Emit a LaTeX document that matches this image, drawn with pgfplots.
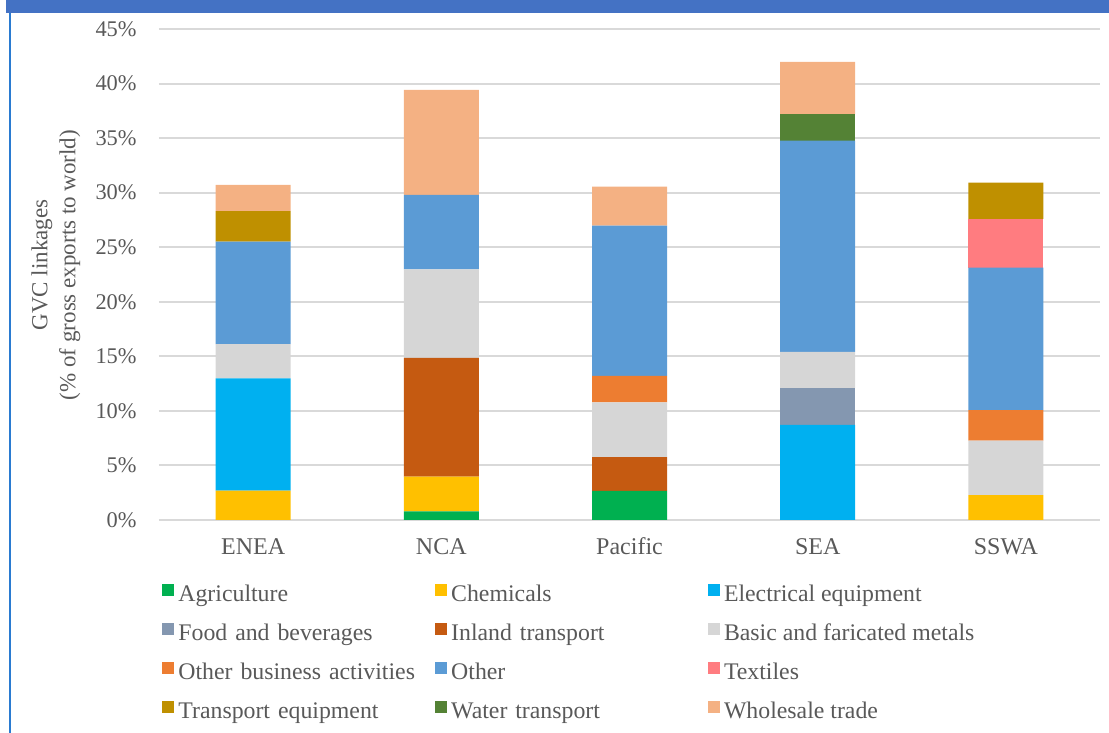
\documentclass[border=0pt]{standalone}
\usepackage{fontspec}
\setmainfont{Liberation Serif}
\usepackage{pgfplots}
\pgfplotsset{compat=1.18}
\definecolor{cAgri}{HTML}{00B050}
\definecolor{cChem}{HTML}{FFC000}
\definecolor{cElec}{HTML}{00B0F0}
\definecolor{cFood}{HTML}{8497B0}
\definecolor{cInland}{HTML}{C55A11}
\definecolor{cMetal}{HTML}{D6D6D6}
\definecolor{cOBA}{HTML}{ED7D31}
\definecolor{cOther}{HTML}{5B9BD5}
\definecolor{cText}{HTML}{FF7C80}
\definecolor{cTrEq}{HTML}{BF9000}
\definecolor{cWater}{HTML}{548235}
\definecolor{cWhole}{HTML}{F4B183}
\definecolor{textgray}{HTML}{595959}
\definecolor{gridgray}{HTML}{D9D9D9}
\definecolor{band}{HTML}{4472C4}
\definecolor{leftline}{HTML}{2A7BD1}
\begin{document}
\begin{tikzpicture}
\useasboundingbox (0,0) rectangle (554.5pt,366.5pt);
\fill[band] (3pt,360.15pt) rectangle (554.5pt,366.5pt);
\fill[leftline] (4.25pt,0pt) rectangle (5.5pt,360.15pt);
\node[rotate=90, align=center, font=\fontsize{11.5}{14}\selectfont, text=textgray] at (28pt,234pt) {GVC linkages\\(\% of gross exports to world)};
\begin{axis}[
  at={(79.5pt,106.5pt)}, anchor=south west,
  scale only axis, width=470.5pt, height=245.5pt,
  ybar stacked, bar width=37.5pt,
  xmin=-0.5, xmax=4.5, ymin=0, ymax=45,
  xtick={0,1,2,3,4}, xticklabels={ENEA,NCA,Pacific,SEA,SSWA},
  ytick={0,5,10,15,20,25,30,35,40,45},
  yticklabels={0\%,5\%,10\%,15\%,20\%,25\%,30\%,35\%,40\%,45\%},
  major tick length=0pt,
  tick style={draw=none},
  axis line style={draw=none},
  ymajorgrids, grid style={draw=gridgray, line width=1pt},
  xticklabel style={inner sep=0pt, anchor=north, text height=9pt, text depth=3pt, yshift=-7.9pt, font=\fontsize{12}{14}\selectfont, text=textgray},
  yticklabel style={inner sep=0pt, anchor=east, xshift=-11pt, font=\fontsize{11.2}{14}\selectfont, text=textgray},
  every axis plot/.append style={draw=none},
  legend columns=3,
  legend cell align=left,
  legend image code/.code={\fill[#1] (0pt,0pt) rectangle (5.75pt,5.75pt);},
  legend style={at={(rel axis cs:0.0032,-0.1293)}, anchor=north west, draw=none, fill=none, inner sep=0pt, row sep=7.5pt, font=\fontsize{11.9}{14}\selectfont, text=textgray,
    nodes={inner sep=0pt, text height=9pt, text depth=3pt},
    /tikz/every odd column/.append style={column sep=2.25pt},
    /tikz/column 2/.append style={text width=128.4pt},
    /tikz/column 4/.append style={text width=128.4pt}},
]
\addplot[fill=cAgri] coordinates {(0,0) (1,0.8) (2,2.66) (3,0) (4,0)};
\addlegendentry{Agriculture}
\addplot[fill=cChem] coordinates {(0,2.69) (1,3.17) (2,0) (3,0) (4,2.29)};
\addlegendentry{Chemicals}
\addplot[fill=cElec] coordinates {(0,10.29) (1,0) (2,0) (3,8.71) (4,0)};
\addlegendentry{Electrical equipment}
\addplot[fill=cFood] coordinates {(0,0) (1,0) (2,0) (3,3.39) (4,0)};
\addlegendentry{Food and beverages}
\addplot[fill=cInland] coordinates {(0,0) (1,10.88) (2,3.11) (3,0) (4,0)};
\addlegendentry{Inland transport}
\addplot[fill=cMetal] coordinates {(0,3.15) (1,8.13) (2,5.02) (3,3.30) (4,4.98)};
\addlegendentry{Basic and faricated metals}
\addplot[fill=cOBA] coordinates {(0,0) (1,0) (2,2.41) (3,0) (4,2.81)};
\addlegendentry{Other business activities}
\addplot[fill=cOther] coordinates {(0,9.38) (1,6.81) (2,13.78) (3,19.37) (4,13.05)};
\addlegendentry{Other}
\addplot[fill=cText] coordinates {(0,0) (1,0) (2,0) (3,0) (4,4.46)};
\addlegendentry{Textiles}
\addplot[fill=cTrEq] coordinates {(0,2.8) (1,0) (2,0) (3,0) (4,3.33)};
\addlegendentry{Transport equipment}
\addplot[fill=cWater] coordinates {(0,0) (1,0) (2,0) (3,2.41) (4,0)};
\addlegendentry{Water transport}
\addplot[fill=cWhole] coordinates {(0,2.4) (1,9.62) (2,3.57) (3,4.8) (4,0)};
\addlegendentry{Wholesale trade}
\end{axis}
\end{tikzpicture}
\end{document}
